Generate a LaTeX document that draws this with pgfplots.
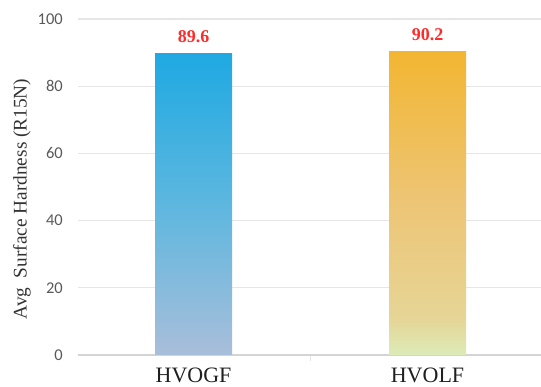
\documentclass[border=0pt]{standalone}
\usepackage{fontspec}
\setmainfont{Liberation Serif}
\newfontfamily\tickfont{Carlito}
\usepackage{pgfplots}
\pgfplotsset{compat=1.18}

\definecolor{gridgray}{HTML}{E6E6E6}
\definecolor{basegray}{HTML}{D4D4D4}
\definecolor{ticktext}{HTML}{595959}
\definecolor{valred}{HTML}{FF2B2B}
\definecolor{bluebot}{HTML}{A9BEDA}
\definecolor{bluemid}{HTML}{5DB7DF}
\definecolor{bluetop}{HTML}{1FA9E2}
\definecolor{orbot}{HTML}{DCEBB8}
\definecolor{orlow}{HTML}{E6D596}
\definecolor{ormid}{HTML}{EDC576}
\definecolor{ortop}{HTML}{F2B632}

% vertical gradients for the two bars (path box maps to 25bp..75bp)
\pgfdeclareverticalshading{blueshade}{100bp}{%
  color(0bp)=(bluebot);%
  color(25bp)=(bluebot);%
  color(50bp)=(bluemid);%
  color(75bp)=(bluetop);%
  color(100bp)=(bluetop)}
\pgfdeclareverticalshading{orangeshade}{100bp}{%
  color(0bp)=(orbot);%
  color(25bp)=(orbot);%
  color(31bp)=(orlow);%
  color(50bp)=(ormid);%
  color(75bp)=(ortop);%
  color(100bp)=(ortop)}

\begin{document}
\begin{tikzpicture}
\begin{axis}[
  at={(0,0)}, anchor=south west,
  scale only axis,
  width=463pt, height=336pt,
  xmin=-0.494, xmax=1.485,
  ymin=0, ymax=100,
  xtick={0,1},
  xticklabels={HVOGF,HVOLF},
  ytick={0,20,40,60,80,100},
  axis line style={draw=none},
  major tick length=0pt,
  ymajorgrids,
  grid style={color=gridgray, line width=1.3pt},
  extra y ticks={0},
  extra y tick labels={},
  extra y tick style={grid style={color=basegray, line width=1.3pt}},
  extra x ticks={0.5},
  extra x tick labels={},
  extra x tick style={major tick length=6pt, tick pos=bottom, tick align=outside,
    tick style={color=gridgray, line width=0.8pt}},
  yticklabel style={font=\tickfont\fontsize{16.5}{16.5}\selectfont, color=ticktext,
    inner sep=0pt, xshift=-15pt},
  /pgf/number format/assume math mode=true,
  xticklabel style={font=\fontsize{22}{22}\selectfont, color=black!88,
    inner sep=0pt, anchor=north, yshift=-13pt},
  ylabel={Avg\ \ Surface Hardness (R15N)},
  ylabel style={at={(axis description cs:-0.121,0.464)}, anchor=center,
    font=\fontsize{19.3}{19.3}\selectfont, color=black!80},
  ybar, bar width=77pt, bar shift=0pt,
  nodes near coords,
  every node near coord/.append style={font=\bfseries\fontsize{18}{18}\selectfont,
    color=valred, anchor=south, inner sep=0pt, yshift=11pt},
  nodes near coords align={anchor=south},
]
\addplot[draw=none, shading=blueshade] coordinates {(0,89.6)};
\addplot[draw=none, shading=orangeshade] coordinates {(1,90.2)};
\end{axis}
\pgfresetboundingbox
\path (-78pt,-32pt) rectangle (463pt,355pt);
\end{tikzpicture}
\end{document}
